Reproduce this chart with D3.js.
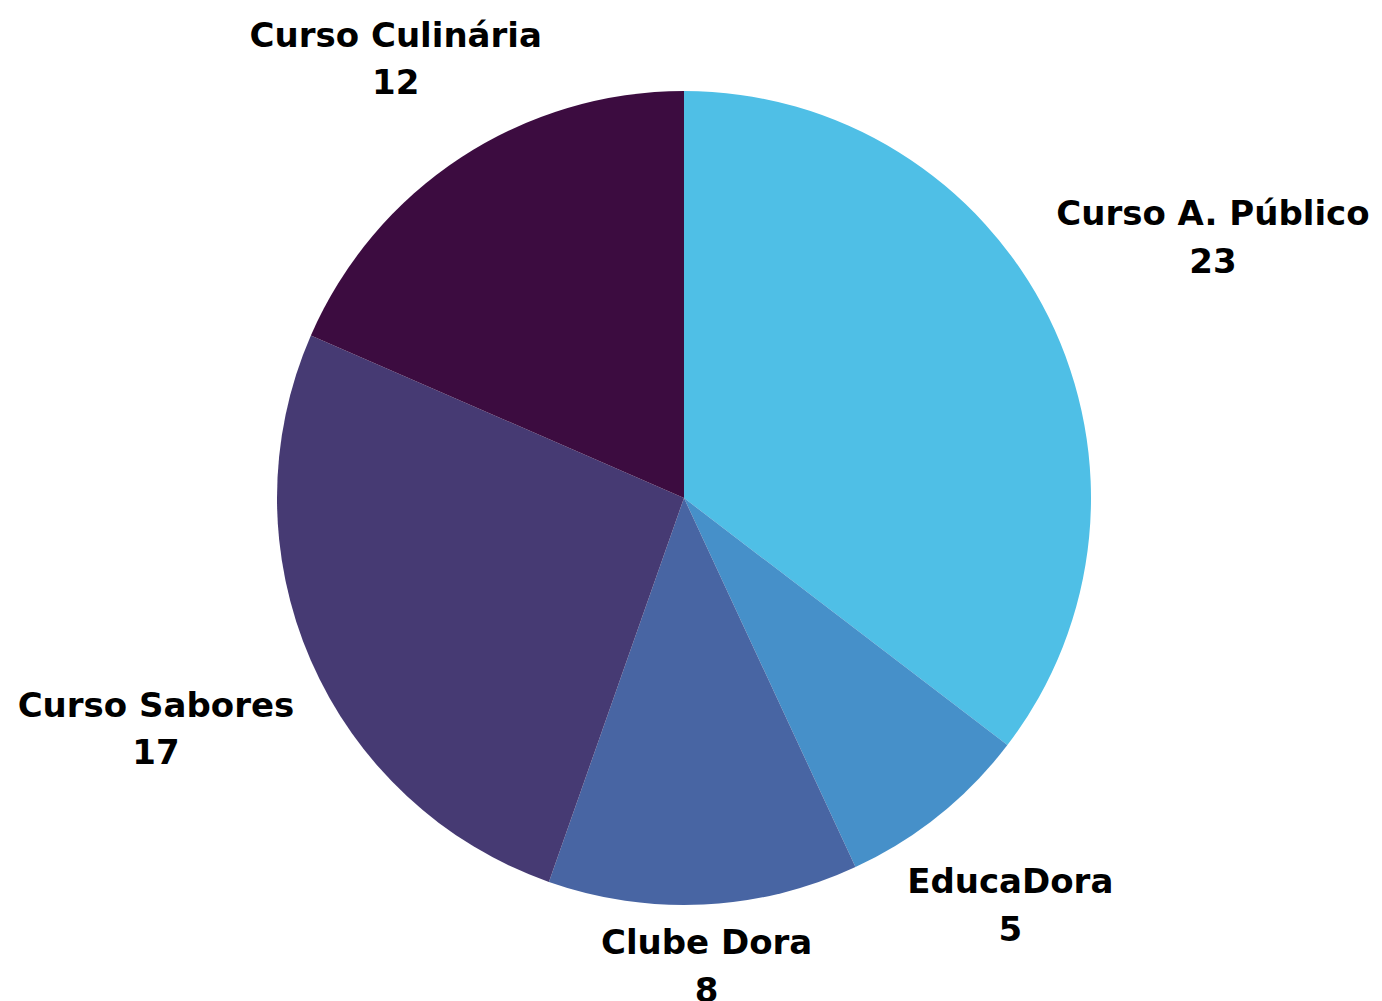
<!DOCTYPE html>
<meta charset="utf-8">
<style>
    body { margin: 0; background: #fff; }
    .label {
        font-family: "DejaVu Sans", sans-serif;
        font-weight: 700;
        font-size: 34px;
        fill: #000;
        text-anchor: middle;
    }
</style>
<body>
<script src="https://d3js.org/d3.v7.min.js"></script>
<script>
    // Data
    var categories = ["Curso A. Público", "EducaDora", "Clube Dora", "Curso Sabores", "Curso Culinária"];
    var values = [23, 5, 8, 17, 12];
    var colors = ["#4fbfe6", "#4690c9", "#4865a3", "#463a73", "#3c0c40"];

    var width = 1382, height = 1001;
    var cx = 684, cy = 498, radius = 407;

    // distance of each label block from the centre
    var labelRadius = {
        "Curso A. Público": 590,
        "EducaDora": 521,
        "Clube Dora": 468,
        "Curso Sabores": 576,
        "Curso Culinária": 526
    };

    var data = categories.map(function (c, i) {
        return { name: c, value: values[i], color: colors[i] };
    });

    var svg = d3.select("body").append("svg")
        .attr("width", width)
        .attr("height", height);

    var g = svg.append("g")
        .attr("transform", "translate(" + cx + "," + cy + ")");

    var pie = d3.pie()
        .value(function (d) { return d.value; })
        .sort(null);

    var arc = d3.arc()
        .innerRadius(0)
        .outerRadius(radius);

    var arcs = pie(data);

    g.selectAll("path")
        .data(arcs)
        .enter().append("path")
        .attr("d", arc)
        .attr("fill", function (d) { return d.data.color; });

    var labels = g.selectAll("text")
        .data(arcs)
        .enter().append("text")
        .attr("class", "label")
        .attr("transform", function (d) {
            var r = labelRadius[d.data.name];
            var a = (d.startAngle + d.endAngle) / 2;
            return "translate(" + (Math.sin(a) * r) + "," + (-Math.cos(a) * r) + ")";
        });

    labels.append("tspan")
        .attr("x", 0)
        .attr("dy", "-0.33em")
        .text(function (d) { return d.data.name; });

    labels.append("tspan")
        .attr("x", 0)
        .attr("dy", "1.4em")
        .text(function (d) { return d.data.value; });
</script>
</body>
